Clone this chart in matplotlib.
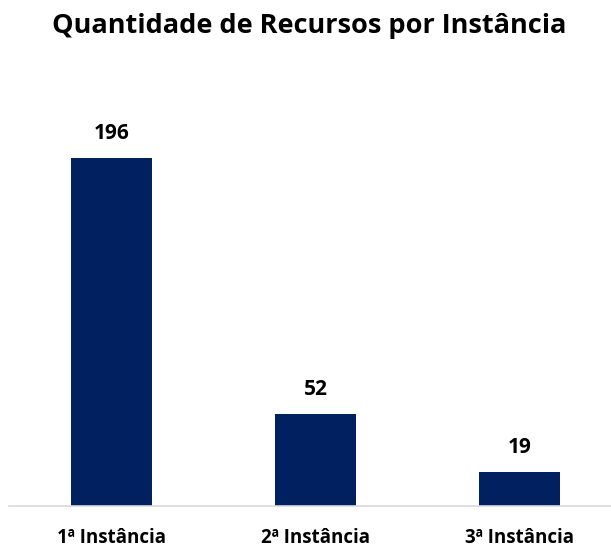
import matplotlib
matplotlib.use('Agg')
import matplotlib.pyplot as plt

# dados
categorias = ['1ª Instância', '2ª Instância', '3ª Instância']
recursos = [196, 52, 19]

cor_barra = '#002060'
plt.rcParams['font.family'] = ['Open Sans', 'DejaVu Sans']

fig = plt.figure(figsize=(6.11, 5.49), dpi=100)
ax = fig.add_axes([9 / 611, 43 / 549, 613 / 611, 406 / 549])

x = range(len(categorias))
barras = ax.bar(x, recursos, width=0.396, color=cor_barra)
for b, v in zip(barras, recursos):
    ax.annotate(str(v), (b.get_x() + b.get_width() / 2, v), xytext=(0, 10),
                textcoords='offset points', ha='center', va='bottom',
                fontsize=15, fontweight='bold', color='black')

ax.set_xlim(-0.5, 2.5)
ax.set_ylim(0, 228.6)
ax.set_xticks(list(x))
ax.set_xticklabels(categorias, fontsize=13.5, fontweight='bold')
ax.tick_params(axis='x', length=0, pad=16)
ax.set_yticks([])
for s in ['top', 'left', 'right']:
    ax.spines[s].set_visible(False)
ax.spines['bottom'].set_color('#d9d9d9')
ax.spines['bottom'].set_linewidth(1.2)

fig.text(309 / 611, 1 - 26 / 549, 'Quantidade de Recursos por Instância',
         ha='center', va='center', fontsize=19.5, fontweight='bold')

fig.savefig('out.png', dpi=100)
